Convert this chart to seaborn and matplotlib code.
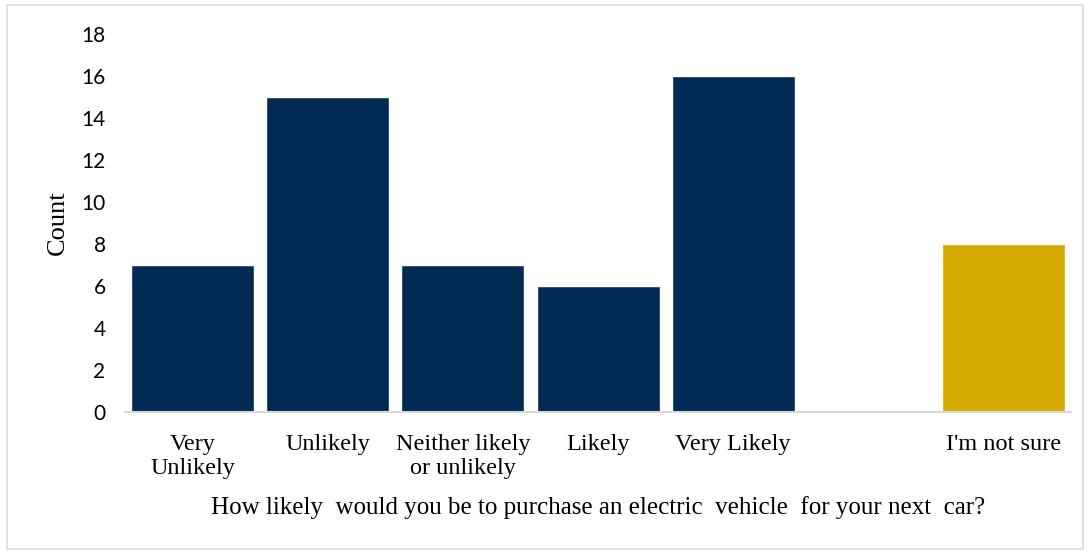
import matplotlib
matplotlib.use("Agg")
import matplotlib.pyplot as plt
import seaborn as sns
import pandas as pd
from matplotlib.patches import Rectangle

# Survey responses
categories = ["Very\nUnlikely", "Unlikely", "Neither likely\nor unlikely",
              "Likely", "Very Likely", " ", "I'm not sure"]
counts = [7, 15, 7, 6, 16, 0, 8]
bar_colors = ["#012A55", "#012A55", "#012A55", "#012A55", "#012A55",
              "#FFFFFF", "#D4A900"]

df = pd.DataFrame({"response": categories, "count": counts})

sns.set_theme(style="white")
plt.rcParams["font.family"] = ["Liberation Serif", "DejaVu Serif"]

fig = plt.figure(figsize=(10.88, 5.53), dpi=100)
ax = fig.add_axes([0.1149, 0.255, 0.8695, 0.6835])

sns.barplot(data=df, x="response", y="count", hue="response",
            order=categories, hue_order=categories,
            palette=dict(zip(categories, bar_colors)),
            width=0.91, saturation=1, legend=False, ax=ax)

ax.set_ylim(0, 18)
ax.set_yticks(range(0, 19, 2))
ax.set_yticklabels([str(v) for v in range(0, 19, 2)],
                   fontfamily="Lato", fontsize=15, color="#000000")
ax.tick_params(axis="y", length=0, pad=14)
ax.tick_params(axis="x", length=0, pad=16, labelsize=17.5, labelcolor="#000000")
for lbl in ax.get_xticklabels():
    lbl.set_linespacing(1.2)
    lbl.set_verticalalignment("top")

ax.set_xlabel("How likely  would you be to purchase an electric  vehicle  for your next  car?",
              fontsize=18, color="#000000", labelpad=12)
ax.set_ylabel("Count", fontsize=19, color="#000000", labelpad=9)

for side in ["top", "right", "left"]:
    ax.spines[side].set_visible(False)
ax.spines["bottom"].set_color("#D9D9D9")
ax.spines["bottom"].set_linewidth(1.5)

# Outer chart frame
fig.patches.append(Rectangle((0.006, 0.008), 0.989, 0.983, transform=fig.transFigure,
                             fill=False, edgecolor="#D9D9D9", linewidth=1.2))

fig.savefig("out.png", dpi=100, facecolor="white")
